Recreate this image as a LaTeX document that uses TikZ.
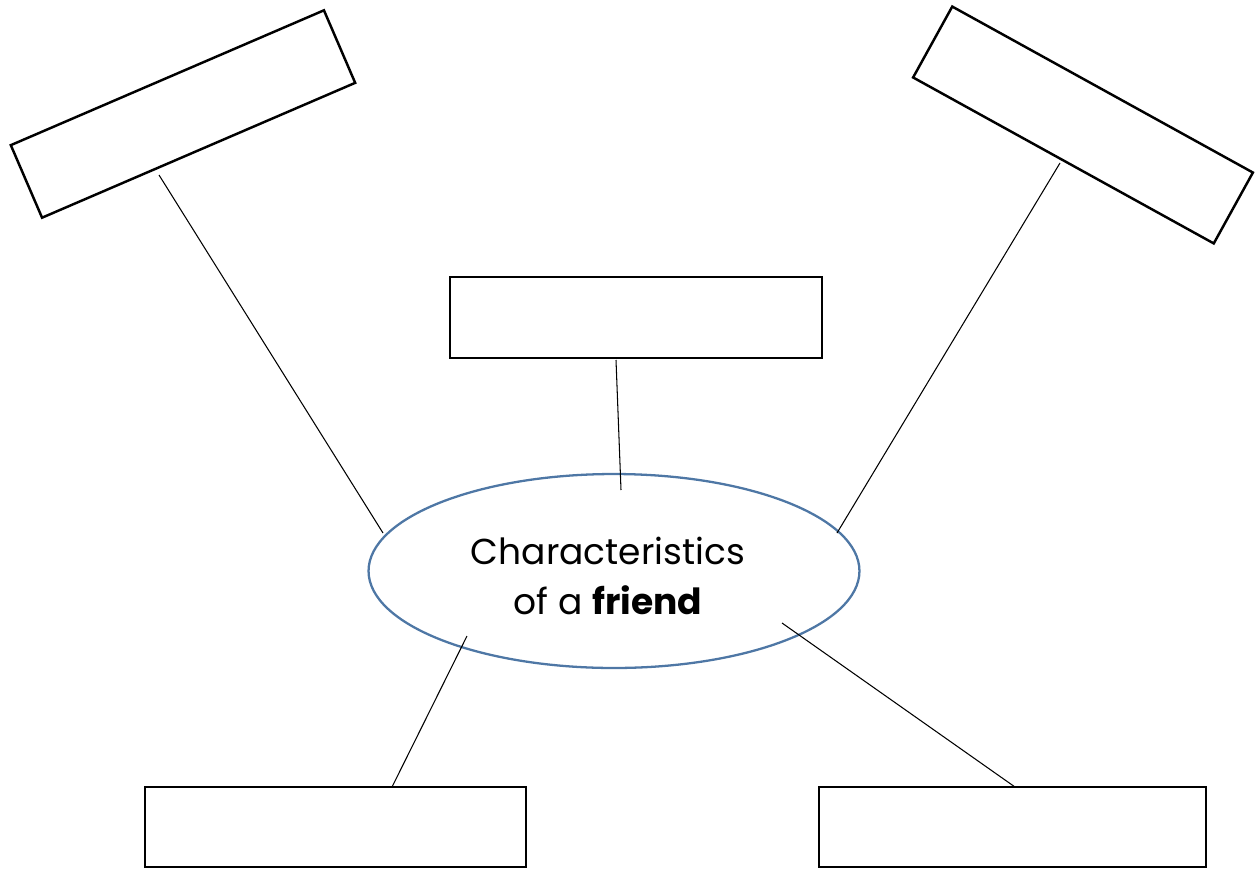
\documentclass[tikz,border=0pt]{standalone}
\usepackage{fontspec}
\setmainfont{Poppins}
\usetikzlibrary{shapes.geometric}
\definecolor{ovalblue}{HTML}{4E77A5}

\begin{document}
\begin{tikzpicture}[x=0.02cm,y=-0.02cm,
    answerbox/.style={draw=black, line width=1.4pt, fill=white, inner sep=0pt},
    spoke/.style={draw=black, line width=0.6pt}]
  \useasboundingbox (0,0) rectangle (1257,869);
  % answer boxes
  \node[answerbox, minimum width=6.82cm, minimum height=1.58cm, rotate=23.3] (boxtl) at (183,114) {};
  \node[answerbox, minimum width=6.87cm, minimum height=1.62cm, rotate=-28.9] (boxtr) at (1083,125) {};
  \node[answerbox, minimum width=7.44cm, minimum height=1.62cm] (boxmid) at (636,317.5) {};
  \node[answerbox, minimum width=7.62cm, minimum height=1.6cm] (boxbl) at (335.5,827) {};
  \node[answerbox, minimum width=7.74cm, minimum height=1.6cm] (boxbr) at (1012.5,827) {};
  % centre oval
  \node[ellipse, draw=ovalblue, line width=1.3pt, minimum width=9.82cm, minimum height=3.88cm] (oval) at (614,571) {};
  \node[align=center, font=\fontsize{20.5}{28}\selectfont] (title) at (608,576) {Characteristics\\of a \textbf{friend}};
  % spoke ends
  \coordinate (tlfoot) at (159,175);
  \coordinate (tlend) at (383,533);
  \coordinate (midfoot) at (616,360);
  \coordinate (midend) at (621,490);
  \coordinate (trfoot) at (1060,163);
  \coordinate (trend) at (837,533);
  \coordinate (blstart) at (467,636);
  \coordinate (blfoot) at (392,787);
  \coordinate (brstart) at (782,623);
  \coordinate (brfoot) at (1015,787);
  \draw[spoke] (tlfoot) -- (tlend);
  \draw[spoke] (midfoot) -- (midend);
  \draw[spoke] (trfoot) -- (trend);
  \draw[spoke] (blstart) -- (blfoot);
  \draw[spoke] (brstart) -- (brfoot);
\end{tikzpicture}
\end{document}
